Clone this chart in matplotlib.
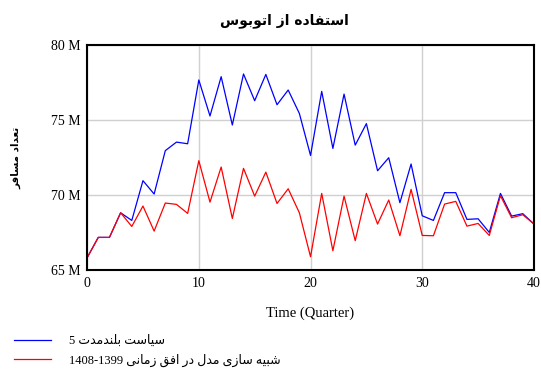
import matplotlib
matplotlib.use("Agg")
import matplotlib.pyplot as plt

# values (millions of passengers)
quarters = list(range(41))
policy_5 = [65.82, 67.18, 67.18, 68.82, 68.31, 70.96, 70.07, 72.96, 73.53, 73.42,
            77.67, 75.27, 77.89, 74.67, 78.07, 76.29, 78.04, 76.02, 77.0, 75.44,
            72.64, 76.91, 73.11, 76.73, 73.33, 74.76, 71.62, 72.49, 69.49, 72.07,
            68.62, 68.31, 70.16, 70.16, 68.38, 68.42, 67.51, 70.11, 68.6, 68.76,
            68.07]
baseline = [65.82, 67.18, 67.18, 68.82, 67.91, 69.27, 67.6, 69.47, 69.38, 68.78,
            72.29, 69.53, 71.87, 68.44, 71.78, 69.93, 71.53, 69.44, 70.42, 68.82,
            65.89, 70.11, 66.29, 69.93, 66.96, 70.11, 68.07, 69.67, 67.29, 70.38,
            67.31, 67.29, 69.4, 69.58, 67.93, 68.11, 67.31, 69.96, 68.49, 68.69,
            68.07]
y_ticks = [65, 70, 75, 80]
x_ticks = [0, 10, 20, 30, 40]

title_fa = "استفاده از اتوبوس"
ylabel_fa = "تعداد مسافر"
legend1_fa = "سیاست بلندمدت"
legend2_fa = "شبیه سازی مدل در افق زمانی"

# matplotlib does no arabic shaping, so do a tiny one by hand
# letter: (isolated, final, initial, medial); None = does not join to next
FORMS = {
    "ا": ("\uFE8D", "\uFE8E", None, None),
    "ب": ("\uFE8F", "\uFE90", "\uFE91", "\uFE92"),
    "ت": ("\uFE95", "\uFE96", "\uFE97", "\uFE98"),
    "د": ("\uFEA9", "\uFEAA", None, None),
    "ر": ("\uFEAD", "\uFEAE", None, None),
    "ز": ("\uFEAF", "\uFEB0", None, None),
    "س": ("\uFEB1", "\uFEB2", "\uFEB3", "\uFEB4"),
    "ش": ("\uFEB5", "\uFEB6", "\uFEB7", "\uFEB8"),
    "ع": ("\uFEC9", "\uFECA", "\uFECB", "\uFECC"),
    "ف": ("\uFED1", "\uFED2", "\uFED3", "\uFED4"),
    "ق": ("\uFED5", "\uFED6", "\uFED7", "\uFED8"),
    "ل": ("\uFEDD", "\uFEDE", "\uFEDF", "\uFEE0"),
    "م": ("\uFEE1", "\uFEE2", "\uFEE3", "\uFEE4"),
    "ن": ("\uFEE5", "\uFEE6", "\uFEE7", "\uFEE8"),
    "ه": ("\uFEE9", "\uFEEA", "\uFEEB", "\uFEEC"),
    "و": ("\uFEED", "\uFEEE", None, None),
    "ی": ("\uFBFC", "\uFBFD", "\uFBFE", "\uFBFF"),
}


def shape(text):
    out = []
    n = len(text)
    for i, ch in enumerate(text):
        if ch not in FORMS:
            out.append(ch)
            continue
        prev = text[i - 1] if i > 0 else ""
        nxt = text[i + 1] if i < n - 1 else ""
        join_prev = prev in FORMS and FORMS[prev][2] is not None
        join_next = nxt in FORMS and FORMS[ch][2] is not None
        f = FORMS[ch]
        if join_prev and join_next:
            out.append(f[3])
        elif join_prev:
            out.append(f[1])
        elif join_next:
            out.append(f[2])
        else:
            out.append(f[0])
    return "".join(out)[::-1]


plt.rcParams["font.family"] = ["Liberation Serif", "DejaVu Sans"]

fig = plt.figure(figsize=(5.41, 3.69), dpi=100)
ax = fig.add_axes([0.161, 0.268, 0.826, 0.610])

ax.plot(quarters, policy_5, color="#0000ff", lw=0.9, label="5 " + shape(legend1_fa))
ax.plot(quarters, baseline, color="#ff0000", lw=0.9, label="1408-1399 " + shape(legend2_fa))

ax.set_xlim(0, 40)
ax.set_ylim(65, 80)
ax.set_xticks(x_ticks)
ax.set_yticks(y_ticks)
ax.set_yticklabels([str(v) + " M" for v in y_ticks])
ax.tick_params(length=0, labelsize=10, pad=5)
ax.grid(True, color="#d0d0d0", lw=1)
for s in ax.spines.values():
    s.set_linewidth(1.5)

fig.text(0.525, 0.943, shape(title_fa), ha="center", va="center",
         fontsize=10, fontweight="bold", family=["DejaVu Sans"])
fig.text(0.03, 0.572, shape(ylabel_fa), ha="center", va="center",
         rotation=90, fontsize=7.5, fontweight="bold", family=["DejaVu Sans"])
ax.set_xlabel("Time (Quarter)", fontsize=10.5, labelpad=12)

fig.legend(loc="lower left", bbox_to_anchor=(0.005, -0.025), frameon=False,
           fontsize=9, handlelength=3.0, handletextpad=1.4, labelspacing=0.55)

fig.savefig("out.png", dpi=100)
